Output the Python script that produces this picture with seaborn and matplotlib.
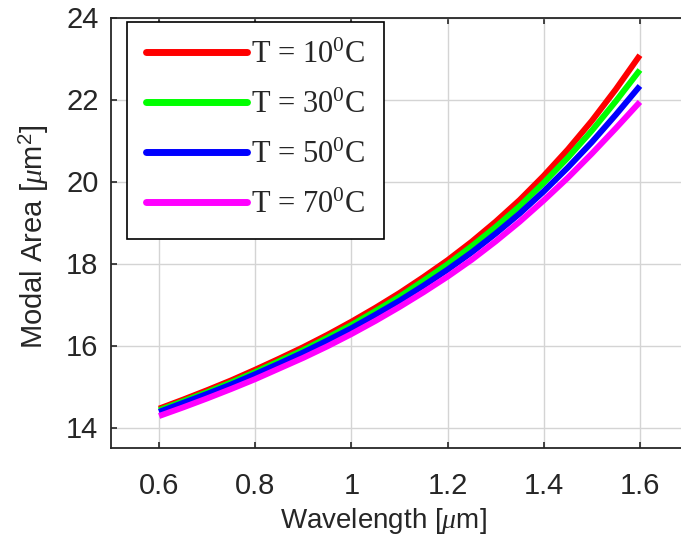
import numpy as np
import pandas as pd
import matplotlib
matplotlib.use("Agg")
import matplotlib.pyplot as plt
import seaborn as sns

# ── Data ────────────────────────────────────────────────────
wavelength = [0.60, 0.65, 0.70, 0.75, 0.80, 0.85, 0.90, 0.95, 1.00, 1.05, 1.10,
              1.15, 1.20, 1.25, 1.30, 1.35, 1.40, 1.45, 1.50, 1.55, 1.60]
area_10 = [14.46, 14.68, 14.91, 15.15, 15.41, 15.68, 15.96, 16.26, 16.58, 16.92, 17.28,
           17.67, 18.08, 18.53, 19.02, 19.55, 20.14, 20.78, 21.48, 22.25, 23.08]
area_30 = [14.42, 14.64, 14.86, 15.10, 15.35, 15.62, 15.89, 16.19, 16.50, 16.84, 17.19,
           17.58, 17.98, 18.42, 18.89, 19.40, 19.97, 20.58, 21.24, 21.96, 22.72]
area_50 = [14.38, 14.60, 14.82, 15.05, 15.30, 15.56, 15.83, 16.12, 16.42, 16.75, 17.09,
           17.46, 17.85, 18.27, 18.73, 19.22, 19.76, 20.34, 20.96, 21.63, 22.33]
area_70 = [14.28, 14.49, 14.71, 14.94, 15.18, 15.44, 15.70, 15.98, 16.28, 16.60, 16.94,
           17.30, 17.68, 18.09, 18.54, 19.02, 19.54, 20.09, 20.68, 21.30, 21.94]
labels = ["T = 10$^{0}$C", "T = 30$^{0}$C", "T = 50$^{0}$C", "T = 70$^{0}$C"]
colors = ["#FF0000", "#00FF00", "#0000FF", "#FF00FF"]

rows = []
for lab, vals in zip(labels, [area_10, area_30, area_50, area_70]):
    for w, a in zip(wavelength, vals):
        rows.append({"Wavelength": w, "Area": a, "T": lab})
df = pd.DataFrame(rows)

sns.set_theme(style="whitegrid")
plt.rcParams["font.family"] = ["Liberation Sans", "DejaVu Sans"]
plt.rcParams["mathtext.fontset"] = "custom"
plt.rcParams["mathtext.rm"] = "Liberation Serif"
plt.rcParams["mathtext.it"] = "Liberation Serif:italic"
plt.rcParams["mathtext.sf"] = "Liberation Sans"

fig = plt.figure(figsize=(6.81, 5.48), dpi=100)
ax = fig.add_axes([111 / 681, 100 / 548, 577 / 681, 430.5 / 548])

sns.lineplot(data=df, x="Wavelength", y="Area", hue="T", hue_order=labels,
             palette=dict(zip(labels, colors)), linewidth=4.3, ax=ax,
             legend=False, solid_capstyle="butt")

ax.set_xlim(0.5, 1.7)
ax.set_ylim(13.5, 24)
ax.set_xticks([0.6, 0.8, 1.0, 1.2, 1.4, 1.6])
ax.set_xticklabels(["0.6", "0.8", "1", "1.2", "1.4", "1.6"])
ax.set_yticks([14, 16, 18, 20, 22, 24])

ax.grid(True, color="#d4d4d4", linewidth=1.0)
for s in ax.spines.values():
    s.set_color("#262626")
    s.set_linewidth(1.3)
ax.tick_params(direction="in", length=4, width=1.2, color="#262626",
               labelsize=21, labelcolor="#262626", top=True, right=True,
               bottom=True, left=True)
ax.tick_params(axis="x", pad=17)
ax.tick_params(axis="y", pad=9)

ax.set_xlabel(r"Wavelength [$\mathit{\mu}$m]", fontsize=20, color="#262626")
ax.set_ylabel(r"Modal Area [$\mathit{\mu}$m$^{\mathsf{2}}$]", fontsize=21, color="#262626")
ax.xaxis.set_label_coords(272 / 577, -58 / 430.5)
ax.yaxis.set_label_coords(-60 / 577, 0.49)

handles = [plt.Line2D([], [], color=c, linewidth=5) for c in colors]
leg = ax.legend(handles, labels, loc="upper left",
                bbox_to_anchor=(16 / 577, 426.5 / 430.5), borderaxespad=0,
                frameon=True, fancybox=False, framealpha=1, edgecolor="black",
                prop={"family": "Liberation Serif", "size": 22},
                handlelength=3.3, handletextpad=0.15, labelspacing=0.68,
                borderpad=0.62)
leg.get_frame().set_linewidth(1.2)

fig.savefig("out.png", dpi=100)
